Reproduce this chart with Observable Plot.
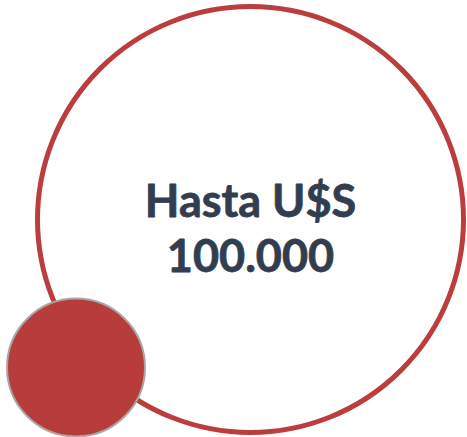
<!DOCTYPE html>
<html>
<head>
<meta charset="utf-8">
<script src="https://cdn.jsdelivr.net/npm/d3@7"></script>
<script src="https://cdn.jsdelivr.net/npm/@observablehq/plot@0.6"></script>
<style>
html,body{margin:0;padding:0;background:#fff;}
</style>
</head>
<body>
<div id="chart"></div>
<script>
// Circles in a 467x437 coordinate space
const circleNames = ["outer", "badge"];
const circleX = [250, 75.5];
const circleY = [219, 367];
const circleR = [213, 69];
const labelLines = ["Hasta U$S", "100.000"];
const labelY = [202, 257];

const circles = circleNames.map((n, i) => ({name: n, x: circleX[i], y: circleY[i], r: circleR[i]}));
const labels = labelLines.map((t, i) => ({text: t, x: 250, y: labelY[i]}));

const chart = Plot.plot({
  width: 467,
  height: 437,
  margin: 0,
  x: {domain: [0, 467], range: [0, 467], axis: null},
  y: {domain: [0, 437], range: [0, 437], axis: null},
  r: {type: "identity"},
  style: {background: "#fff"},
  marks: [
    Plot.dot(circles.filter(d => d.name === "outer"), {x: "x", y: "y", r: "r", fill: "#fff", stroke: "#bb3d3d", strokeWidth: 5}),
    Plot.dot(circles.filter(d => d.name === "badge"), {x: "x", y: "y", r: "r", fill: "#b83c3c", stroke: "#a8a8a8", strokeWidth: 2}),
    Plot.text(labels, {x: "x", y: "y", text: "text", fill: "#323e50", stroke: "#323e50", strokeWidth: 0.8, fontSize: 45, fontWeight: "bold", fontFamily: "Lato", textAnchor: "middle", style: "letter-spacing:0.5px"})
  ]
});
document.getElementById("chart").appendChild(chart);
</script>
</body>
</html>
